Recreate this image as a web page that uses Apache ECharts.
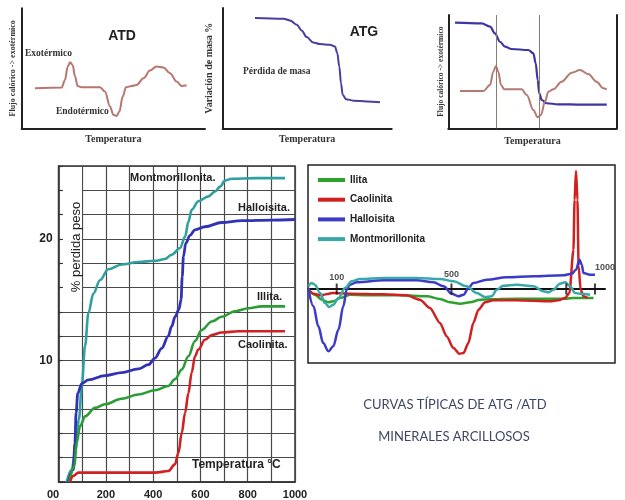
<!DOCTYPE html>
<html><head><meta charset="utf-8">
<script src="https://cdn.jsdelivr.net/npm/echarts@6.0.0/dist/echarts.min.js"></script>
<style>html,body{margin:0;padding:0;background:#fff}#c{width:625px;height:500px}</style>
</head><body><div id="c"></div>
<script>
// ---------- Main TGA chart (% pérdida peso vs Temperatura °C) ----------
const montmorillonitaTGA = [[34,0],[55,1.0],[72,2.7],[86,5.15],[98,7.9],[112,11.2],[126,13.9],[147,15.5],[175,16.6],[210,17.5],[267,17.9],[337,18.1],[408,18.2],[450,18.35],[478,18.7],[514,19.25],[535,20.2],[549,21.4],[563,22.4],[591,23.1],[634,23.5],[662,23.9],[683,24.3],[704,24.8],[732,24.95],[831,25.0],[958,25.0]];
const halloisitaTGA = [[41,0],[62,1.0],[69,3.2],[74,5.7],[81,7.3],[98,8.1],[126,8.4],[196,8.75],[267,9.0],[337,9.3],[380,9.65],[408,10.2],[436,11.0],[464,12.0],[478,12.8],[493,13.6],[509,14.2],[518,15.0],[523,16.9],[528,18.55],[538,19.65],[556,20.3],[577,20.75],[619,21.0],[690,21.35],[775,21.5],[901,21.55],[1000,21.6]];
const illitaTGA = [[45,0],[67,1.3],[76,3.2],[91,4.6],[112,5.4],[154,6.1],[196,6.4],[267,6.85],[337,7.2],[408,7.55],[464,7.9],[492,8.45],[521,9.25],[549,10.35],[577,11.6],[605,12.5],[648,13.2],[690,13.6],[746,14.05],[803,14.3],[859,14.45],[958,14.45]];
const caolinitaTGA = [[48,0],[62,0.5],[84,0.77],[126,0.77],[267,0.77],[408,0.77],[464,0.9],[492,1.45],[507,2.4],[521,4.05],[535,5.7],[549,7.3],[563,9.0],[577,10.35],[591,10.9],[619,11.7],[648,12.1],[690,12.3],[761,12.4],[831,12.4],[958,12.4]];
const tgaYLabels = [10, 20];
const tgaXLabels = [0, 200, 400, 600, 800, 1000];

// ---------- DTA panel ----------
const ilitaDTA = [[1,0],[24,-0.57],[48,-1.07],[71,-1.33],[88,-1.23],[112,-0.9],[146,-0.57],[205,-0.63],[321,-0.63],[414,-0.73],[460,-1.0],[495,-1.33],[530,-1.47],[565,-1.33],[600,-1.07],[669,-1.0],[786,-0.97],[902,-0.97],[925,-0.9],[995,-0.9]];
const caolinitaDTA = [[1,-0.07],[19,-0.47],[42,-0.63],[88,-0.4],[146,-0.47],[263,-0.53],[344,-0.63],[390,-1.07],[425,-1.9],[460,-3.4],[483,-4.73],[507,-5.9],[527,-6.47],[542,-6.4],[559,-5.4],[576,-3.4],[594,-2.07],[617,-1.33],[646,-1.13],[727,-1.13],[844,-1.23],[873,-1.13],[896,-0.9],[911,-0.4],[925,3.9],[929,8.9],[934,11.8],[939,8.9],[943,2.3],[950,-0.07],[960,-0.73],[975,-0.9]];
const halloisitaDTA = [[1,0.1],[19,-1.73],[36,-3.73],[53,-5.4],[71,-6.23],[88,-5.73],[106,-4.07],[123,-1.73],[135,-0.07],[146,0.43],[170,0.67],[263,0.87],[379,0.87],[437,0.67],[472,0.27],[501,-0.47],[524,-0.73],[542,-0.57],[559,0.1],[576,0.6],[623,0.93],[693,1.17],[786,1.27],[890,1.37],[919,1.53],[934,1.93],[946,2.93],[954,2.43],[960,1.6],[983,1.43],[1000,1.43]];
const montmorillonitaDTA = [[1,0.27],[13,0.6],[24,0.43],[42,-0.4],[59,-1.4],[74,-1.8],[88,-1.57],[106,-0.9],[129,0.1],[152,0.77],[181,1.0],[263,1.1],[379,1.1],[460,1.0],[507,0.77],[553,0.27],[588,-0.4],[617,-0.8],[640,-0.73],[658,-0.07],[681,0.33],[727,0.43],[786,0.27],[820,-0.23],[838,-0.33],[855,-0.07],[878,0.53],[896,0.67],[913,0.27],[931,-0.4],[948,-0.47],[983,-0.57]];
const dtaTicks = [100, 500, 900, 1000];
const dtaTickLabels = [100, 500, 1000];
const dtaLegend = ['Ilita', 'Caolinita', 'Halloisita', 'Montmorillonita'];

// ---------- Small schematic panels (arbitrary units 0-100) ----------
const atdCurve = [[7.2,33.3],[21.8,33.9],[23.6,40.3],[25.1,51.4],[26.4,55],[27.8,52.8],[29.1,43.1],[30.5,35.3],[32.7,34.2],[42.7,34.2],[45.4,30.6],[48.2,18.1],[50,11.2],[51.8,10.3],[53.3,13.9],[55.1,26.4],[56.9,34.2],[60,35.3],[62.7,36.1],[66.4,41.7],[70,48.1],[73.6,51.4],[77.3,50.6],[80.9,45.8],[84.6,38.9],[87.3,35.3],[90,35.8]];
const atgCurve = [[19.1,91.7],[35.9,91.1],[39.8,89.7],[43.8,86.1],[46.7,81.4],[49.7,75.8],[53.6,71.4],[57.6,70],[63.5,69.4],[66.4,68],[67.8,62.5],[69,51.4],[70,37.5],[71,27.8],[73,24.2],[77.3,23],[85.2,22.2],[93.1,21.7]];
const combinedTGA = [[4,93.2],[19.8,92.6],[24.8,89.7],[27.7,83.8],[30.7,76.4],[33.7,72],[37.6,70],[47.5,69.1],[50.5,66.2],[51.9,57.4],[53.1,42.6],[54,30.9],[55.5,25],[58.4,22.1],[65.3,21.2],[79.2,20.9],[94.1,20.9]];
const combinedDTA = [[6.9,32.9],[20.8,32.9],[24.8,38.2],[26.7,50],[28.3,55],[29.7,50],[31.3,38.2],[33.3,34.4],[43.6,34.4],[46.6,29.4],[50.5,16.2],[53.1,9.7],[55,11.7],[57.4,23.5],[59.4,32.3],[62.4,34.4],[67.3,41.1],[73.3,49.1],[78.2,51.5],[83.1,47.9],[88.1,41.1],[92,35.3],[94.1,34.4]];
const combinedMarkers = [28.3, 54];

// ---------- colours ----------
const C_TEAL = '#2f9f9f', C_BLUE = '#3232b4', C_GREEN = '#2c9c38', C_RED = '#cf2222';
const SERIF = 'Liberation Serif';
const SANS = 'Liberation Sans';

const chart = echarts.init(document.getElementById('c'), null, {renderer: 'canvas'});

const smallAxisX = (i, name, gap) => ({
  gridIndex: i, type: 'value', min: 0, max: 100,
  axisLine: {show: true, lineStyle: {color: '#222', width: 2}},
  axisTick: {show: false}, axisLabel: {show: false}, splitLine: {show: false},
  name: name, nameLocation: 'middle', nameGap: gap,
  nameTextStyle: {fontFamily: SERIF, fontWeight: 'bold', fontSize: 10, color: '#333'}
});
const smallAxisY = (i, name, gap, size, pos) => ({
  gridIndex: i, type: 'value', min: 0, max: 100, position: pos || 'left',
  axisLine: {show: true, onZero: false, lineStyle: {color: '#222', width: 2}},
  axisTick: {show: false}, axisLabel: {show: false}, splitLine: {show: false},
  name: name, nameLocation: 'middle', nameGap: gap,
  nameTextStyle: {fontFamily: SERIF, fontWeight: 'bold', fontSize: size, color: '#333'}
});

const lineS = (name, data, color, xi, yi, w, extra) => Object.assign({
  name: name, type: 'line', data: data, xAxisIndex: xi, yAxisIndex: yi,
  showSymbol: false, symbol: 'none', smooth: 0.35, smoothMonotone: 'x',
  lineStyle: {color: color, width: w}, itemStyle: {color: color}, z: 3
}, extra || {});

// label offsets for the DTA tick labels (the 1000 label sits to the right, above the axis)
const dtaLabelOffset = v => (v === 1000 ? [10, -10] : (v === 500 ? [0, -3] : [0, 0]));

const option = {
  animation: false,
  backgroundColor: '#fff',
  grid: [
    {left: 58.6, top: 166, width: 236.4, height: 316.7, show: true, borderColor: '#333', borderWidth: 1.5},
    {left: 21.7, top: 8.3, width: 183.3, height: 120},
    {left: 222.7, top: 8, width: 169, height: 120.3},
    {left: 448.3, top: 15, width: 168.4, height: 113.3},
    {left: 308, top: 165, width: 297, height: 198}
  ],
  xAxis: [
    {gridIndex: 0, type: 'value', min: 0, max: 1000, interval: 100,
     axisLine: {show: true, lineStyle: {color: '#333', width: 1.5}},
     axisTick: {show: false},
     splitLine: {show: true, lineStyle: {color: '#4a4a4a', width: 1.2}},
     axisLabel: {margin: 7, fontFamily: SANS, fontWeight: 'bold', fontSize: 11, color: '#222',
       formatter: v => (tgaXLabels.indexOf(v) < 0 ? '' : (v === 0 ? '{z|00}' : String(v))),
       rich: {z: {fontFamily: SANS, fontWeight: 'bold', fontSize: 11, color: '#222', padding: [0, 11, 0, 0]}}}},
    smallAxisX(1, 'Temperatura', 6),
    smallAxisX(2, 'Temperatura', 6),
    smallAxisX(3, 'Temperatura', 8),
    {gridIndex: 4, type: 'value', min: 0, max: 1035,
     axisLine: {show: true, onZero: true, lineStyle: {color: '#111', width: 2}},
     axisTick: {show: false}, splitLine: {show: false}, axisLabel: {show: false}}
  ],
  yAxis: [
    {gridIndex: 0, type: 'value', min: 0, max: 26, interval: 2,
     axisLine: {show: true, lineStyle: {color: '#333', width: 1.5}},
     axisTick: {show: true, inside: true, length: 4, lineStyle: {color: '#333', width: 1.2}},
     splitLine: {show: true, lineStyle: {color: '#4a4a4a', width: 1.2}},
     axisLabel: {margin: 6, fontFamily: SANS, fontWeight: 'bold', fontSize: 12, color: '#222',
       formatter: v => (tgaYLabels.indexOf(v) < 0 ? '' : String(v))}},
    smallAxisY(1, 'Flujo calórico -> exotérmico', 5, 8),
    smallAxisY(2, 'Variación de masa %', 8, 10),
    smallAxisY(3, 'Flujo calórico -> exotérmico', 3, 7.5),
    Object.assign(smallAxisY(3, '', 0, 8, 'right'), {name: ''}),
    {gridIndex: 4, type: 'value', min: -7.4, max: 12.4, show: false}
  ],
  legend: {
    data: dtaLegend, orient: 'vertical', left: 318, top: 175, padding: 0,
    itemWidth: 27, itemHeight: 4, itemGap: 9.7, icon: 'rect',
    textStyle: {fontFamily: SANS, fontWeight: 'bold', fontSize: 10, color: '#222'},
    selectedMode: false
  },
  series: [
    lineS('Montmorillonita.', montmorillonitaTGA, C_TEAL, 0, 0, 2.6),
    lineS('Halloisita.', halloisitaTGA, C_BLUE, 0, 0, 2.8),
    lineS('Illita.', illitaTGA, C_GREEN, 0, 0, 2.6),
    lineS('Caolinita.', caolinitaTGA, C_RED, 0, 0, 2.6),

    lineS('ATD', atdCurve, '#b8766e', 1, 1, 2),
    lineS('ATG', atgCurve, '#4a3e9e', 2, 2, 2),
    lineS('ATG ', combinedTGA, '#3e36a2', 3, 3, 2.2, {
      markLine: {silent: true, symbol: ['none', 'none'], label: {show: false},
        lineStyle: {color: '#8b7b70', width: 1, type: 'solid'},
        data: combinedMarkers.map(v => ({xAxis: v}))}
    }),
    lineS('ATD ', combinedDTA, '#b37a72', 3, 3, 2),

    lineS('Ilita', ilitaDTA, '#2ea02e', 4, 5, 2.5),
    lineS('Caolinita', caolinitaDTA, '#d02020', 4, 5, 2.5, {smooth: 0.25}),
    lineS('Halloisita', halloisitaDTA, '#3b3bc8', 4, 5, 2.5),
    lineS('Montmorillonita', montmorillonitaDTA, '#3aa8a8', 4, 5, 2.5),
    {name: 'ticks', type: 'scatter', xAxisIndex: 4, yAxisIndex: 5, symbol: 'rect', symbolSize: [2, 11],
     itemStyle: {color: '#111'}, z: 5, silent: true,
     data: dtaTicks.map(v => [v, 0])},
    {name: 'tickLabels', type: 'scatter', xAxisIndex: 4, yAxisIndex: 5, symbolSize: 0, z: 6, silent: true,
     label: {show: true, position: 'top', distance: 7, formatter: p => String(p.value[0]),
       fontFamily: SANS, fontWeight: 'bold', fontSize: 9, color: '#222'},
     data: dtaTickLabels.map(v => ({value: [v, 0], label: {offset: dtaLabelOffset(v)}}))}
  ],
  graphic: [
    {type: 'rect', z: 1, silent: true, shape: {x: 63, y: 167, width: 19, height: 134}, style: {fill: '#fff'}},
    {type: 'text', z: 10, x: 76, y: 247, rotation: Math.PI / 2,
     style: {text: '% perdida peso', fontFamily: SANS, fontSize: 13, fill: '#222', align: 'center', verticalAlign: 'middle'}},
    {type: 'text', z: 10, x: 130, y: 178, style: {text: 'Montmorillonita.', fontFamily: SANS, fontWeight: 'bold', fontSize: 11, fill: '#222', verticalAlign: 'middle'}},
    {type: 'text', z: 10, x: 238, y: 208, style: {text: 'Halloisita.', fontFamily: SANS, fontWeight: 'bold', fontSize: 11, fill: '#222', verticalAlign: 'middle'}},
    {type: 'text', z: 10, x: 257, y: 297, style: {text: 'Illita.', fontFamily: SANS, fontWeight: 'bold', fontSize: 11, fill: '#222', verticalAlign: 'middle'}},
    {type: 'text', z: 10, x: 238, y: 345, style: {text: 'Caolinita.', fontFamily: SANS, fontWeight: 'bold', fontSize: 11, fill: '#222', verticalAlign: 'middle'}},
    {type: 'text', z: 10, x: 192, y: 465, style: {text: 'Temperatura °C', fontFamily: SANS, fontWeight: 'bold', fontSize: 12, fill: '#222', verticalAlign: 'middle'}},

    {type: 'text', z: 10, x: 122, y: 36, style: {text: 'ATD', fontFamily: SANS, fontWeight: 'bold', fontSize: 14, fill: '#222', align: 'center', verticalAlign: 'middle'}},
    {type: 'text', z: 10, x: 25, y: 54, style: {text: 'Exotérmico', fontFamily: SERIF, fontWeight: 'bold', fontSize: 9.5, fill: '#333', verticalAlign: 'middle'}},
    {type: 'text', z: 10, x: 56, y: 112, style: {text: 'Endotérmico', fontFamily: SERIF, fontWeight: 'bold', fontSize: 9.5, fill: '#333', verticalAlign: 'middle'}},
    {type: 'text', z: 10, x: 364, y: 32, style: {text: 'ATG', fontFamily: SANS, fontWeight: 'bold', fontSize: 14, fill: '#222', align: 'center', verticalAlign: 'middle'}},
    {type: 'text', z: 10, x: 243, y: 72, style: {text: 'Pérdida de masa', fontFamily: SERIF, fontWeight: 'bold', fontSize: 9.5, fill: '#333', verticalAlign: 'middle'}},

    {type: 'rect', z: 1, silent: true, shape: {x: 308, y: 165, width: 307, height: 198}, style: {fill: 'none', stroke: '#222', lineWidth: 1.5}},

    {type: 'text', z: 10, x: 455, y: 405, style: {text: 'CURVAS TÍPICAS DE ATG /ATD', fontFamily: 'Lato', fontSize: 13, fill: '#3d4763', align: 'center', verticalAlign: 'middle'}},
    {type: 'text', z: 10, x: 454, y: 437, style: {text: 'MINERALES ARCILLOSOS', fontFamily: 'Lato', fontSize: 13, fill: '#3d4763', align: 'center', verticalAlign: 'middle'}}
  ]
};
chart.setOption(option);
</script></body></html>
